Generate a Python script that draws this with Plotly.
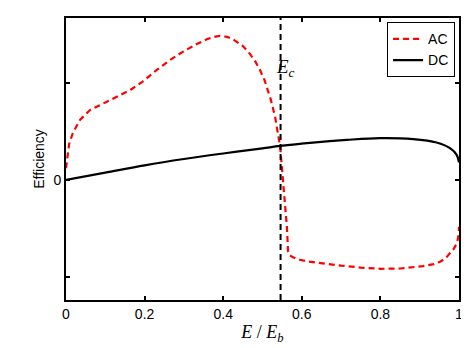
import plotly.graph_objects as go

# AC efficiency (red dashed)
ac_x = [0, 0.003, 0.008, 0.018, 0.036, 0.061, 0.091, 0.129, 0.163, 0.196, 0.231,
        0.265, 0.298, 0.333, 0.361, 0.38, 0.392, 0.41, 0.425, 0.45, 0.468, 0.482,
        0.494, 0.505, 0.513, 0.521, 0.532, 0.540, 0.545, 0.549, 0.553, 0.557,
        0.562, 0.565, 0.570, 0.578, 0.595, 0.616, 0.65, 0.7, 0.75, 0.8, 0.85,
        0.908, 0.935, 0.952, 0.966, 0.977, 0.987, 0.995, 0.999, 1.0]
ac_y = [0.12, 0.24, 0.37, 0.49, 0.62, 0.72, 0.78, 0.85, 0.925, 1.015, 1.135,
        1.237, 1.323, 1.402, 1.455, 1.478, 1.485, 1.475, 1.45, 1.38, 1.30, 1.22,
        1.13, 1.03, 0.94, 0.83, 0.65, 0.48, 0.34, 0.14, -0.03, -0.21,
        -0.48, -0.74, -0.78, -0.80, -0.825, -0.842, -0.86, -0.885, -0.905, -0.918, -0.915,
        -0.89, -0.87, -0.845, -0.81, -0.76, -0.71, -0.65, -0.57, -0.485]

# DC efficiency (black solid)
dc_x = [0, 0.1, 0.2, 0.3, 0.4, 0.5, 0.545, 0.628, 0.714, 0.8, 0.883, 0.943, 0.977,
        0.994, 1.0]
dc_y = [0, 0.075, 0.15, 0.215, 0.272, 0.325, 0.35, 0.385, 0.412, 0.43, 0.42, 0.385,
        0.327, 0.258, 0.18]

ec = 0.546
y_ticks = [-1, 0, 1]
y_labels = ["", "0", ""]
x_ticks = [0, 0.2, 0.4, 0.6, 0.8, 1]
x_labels = ["0", "0.2", "0.4", "0.6", "0.8", "1"]

fig = go.Figure()
fig.add_trace(go.Scatter(x=ac_x, y=ac_y, mode="lines", name="AC",
                         line=dict(color="red", width=2.2, dash="6px,4px")))
fig.add_trace(go.Scatter(x=dc_x, y=dc_y, mode="lines", name="DC",
                         line=dict(color="black", width=2.2), line_shape="spline"))

fig.add_shape(type="line", x0=ec, x1=ec, y0=0, y1=1, xref="x", yref="paper",
              line=dict(color="black", width=2, dash="6px,4px"))
fig.add_annotation(x=ec, y=1.15, xref="x", yref="y", text="<i>E</i><sub><i>c</i></sub>",
                   showarrow=False, xanchor="left", xshift=-7,
                   font=dict(family="Liberation Serif", size=19, color="black"))

# page body adds an 8px offset, so the figure is sized to fit the window
fig.update_layout(
    width=461, height=340,
    margin=dict(l=58, r=10, t=10, b=48),
    plot_bgcolor="white", paper_bgcolor="white",
    font=dict(family="Liberation Sans", size=14, color="black"),
    showlegend=True,
    legend=dict(x=0.99, y=0.985, xanchor="right", yanchor="top",
                bordercolor="black", borderwidth=1, bgcolor="white",
                font=dict(size=14), itemwidth=30, tracegroupgap=0),
)
fig.update_xaxes(range=[0, 1], tickvals=x_ticks, ticktext=x_labels,
                 showline=True, linecolor="black", linewidth=2, mirror="ticks",
                 ticks="inside", ticklen=4, tickwidth=1.5, tickcolor="black",
                 showgrid=False, zeroline=False, automargin=False,
                 title=dict(text="<i>E</i> / <i>E</i><sub><i>b</i></sub>", standoff=5,
                            font=dict(family="Liberation Serif", size=18)))
fig.update_yaxes(range=[-1.24, 1.67], tickvals=y_ticks, ticktext=y_labels,
                 showline=True, linecolor="black", linewidth=2, mirror="ticks",
                 ticks="inside", ticklen=4, tickwidth=1.5, tickcolor="black",
                 showgrid=False, zeroline=False, automargin=False,
                 title=dict(text="Efficiency", standoff=6, font=dict(size=14)))

fig.write_html("out.html")
